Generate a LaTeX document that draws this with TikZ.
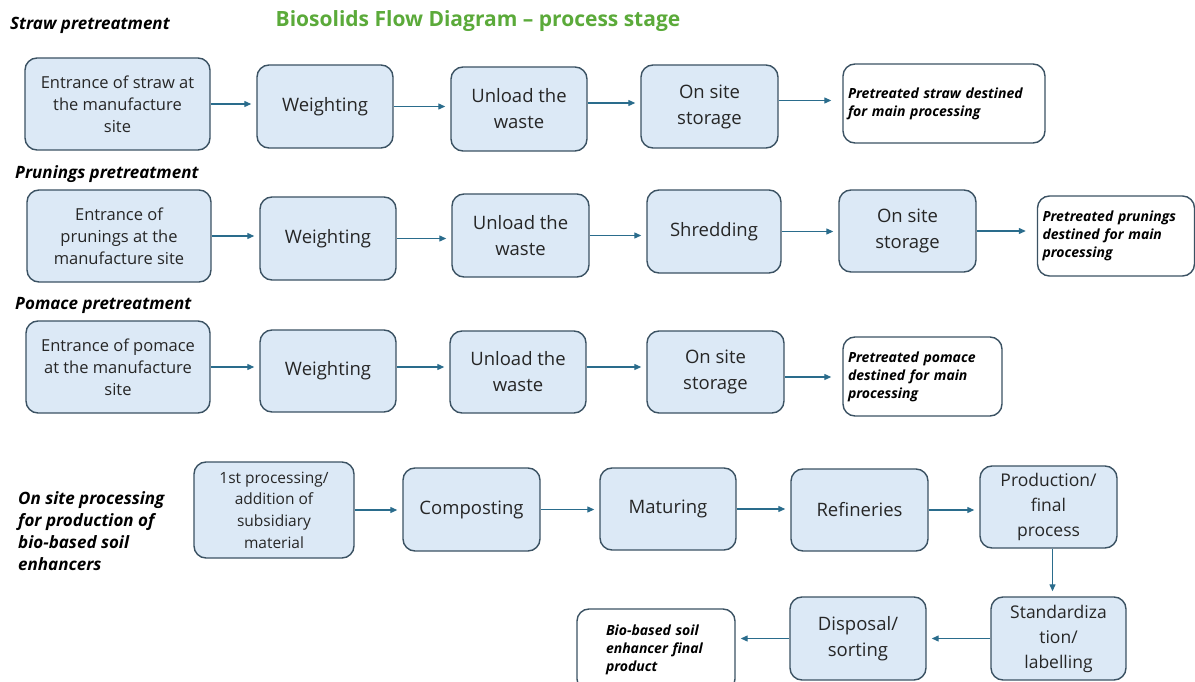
\documentclass[tikz,border=0pt]{standalone}
\usepackage{fontspec}
\setmainfont{Open Sans}
\usetikzlibrary{arrows.meta}

\definecolor{boxfill}{HTML}{DCE9F6}
\definecolor{boxline}{HTML}{3B5263}
\definecolor{arrowc}{HTML}{2A6C8C}
\definecolor{titlegreen}{HTML}{5BAA3A}
\definecolor{inktext}{HTML}{262626}

\tikzset{
  size/.style 2 args={minimum width=#1pt, minimum height=#2pt},
  stage/.style={draw=boxline, fill=boxfill, line width=1.4pt, rounded corners=12pt,
    align=center, text=inktext, inner sep=2pt, font=\fontsize{18.5}{26}\selectfont},
  entry/.style={stage, font=\fontsize{16.5}{22}\selectfont},
  smallstage/.style={stage, font=\fontsize{15.5}{21.7}\selectfont},
  outbox/.style={draw=boxline, fill=white, line width=1.4pt, rounded corners=12pt,
    align=left, text=black, inner xsep=5pt,
    font=\fontsize{14}{18}\selectfont\bfseries\itshape},
  rowlabel/.style={font=\fontsize{17}{22}\selectfont\bfseries\itshape, text=black,
    anchor=west, align=left, inner sep=0pt},
  flow/.style={draw=arrowc, line width=1.2pt, -{Triangle[length=7pt,width=6pt]},
    shorten >=5pt},
  flowgap/.style={flow, shorten >=11pt},
}

\begin{document}
\begin{tikzpicture}[x=1pt, y=-1pt]
\useasboundingbox (0,0) rectangle (1195,682);
\clip (0,0) rectangle (1195,682);

% title and section labels
\node[font=\fontsize{21}{24}\selectfont\bfseries, text=titlegreen] (title) at (478,21)
  {Biosolids Flow Diagram -- process stage};
\node[rowlabel] (lstraw) at (10,25) {Straw pretreatment};
\node[rowlabel] (lprun) at (15,174) {Prunings pretreatment};
\node[rowlabel] (lpom) at (15,305) {Pomace pretreatment};
\node[rowlabel] (lsite) at (18,531) {On site processing\\for production of\\bio-based soil\\enhancers};

% straw line
\node[entry, size={185}{92}] (a1) at (117.5,104) {Entrance of straw at\\the manufacture\\site};
\node[stage, size={136}{83}] (a2) at (325,106.5) {Weighting};
\node[stage, size={136}{84}] (a3) at (519,109) {Unload the\\waste};
\node[stage, size={137}{83}] (a4) at (709.5,106.5) {On site\\storage};
\node[outbox, size={202}{79}, text width=192pt] (a5) at (944,103.5)
  {Pretreated straw destined\\for main processing};

% prunings line
\node[entry, size={184}{92}] (b1) at (119,236) {Entrance of\\prunings at the\\manufacture site};
\node[stage, size={136}{83}] (b2) at (328,238.5) {Weighting};
\node[stage, size={137}{83}] (b3) at (520.5,235.5) {Unload the\\waste};
\node[stage, size={134}{83}] (b4) at (714,231.5) {Shredding};
\node[stage, size={137}{82}] (b5) at (907.5,231) {On site\\storage};
\node[outbox, size={157}{80}, text width=147pt] (b6) at (1116,236)
  {Pretreated prunings\\destined for main\\processing};

% pomace line
\node[entry, size={184}{92}] (c1) at (118,367) {Entrance of pomace\\at the manufacture\\site};
\node[stage, size={136}{82}] (c2) at (328,371) {Weighting};
\node[stage, size={136}{82}] (c3) at (518,372) {Unload the\\waste};
\node[stage, size={137}{82}] (c4) at (715.5,372) {On site\\storage};
\node[outbox, size={159}{79}, text width=149pt] (c5) at (922.5,376.5)
  {Pretreated pomace\\destined for main\\processing};

% main processing line
\node[smallstage, size={160}{96}] (d1) at (274,510) {1st processing/\\addition of\\subsidiary\\material};
\node[stage, size={137}{83}] (d2) at (471.5,509.5) {Composting};
\node[stage, size={136}{82}] (d3) at (668,509) {Maturing};
\node[stage, size={137}{82}] (d4) at (859.5,510) {Refineries};
\node[stage, size={137}{82}, font=\fontsize{17.5}{25}\selectfont] (d5) at (1048.5,507) {Production/\\final\\process};
\node[stage, size={135}{83}, font=\fontsize{17.5}{25}\selectfont] (d6) at (1058.5,638.5) {Standardiza\\tion/\\labelling};
\node[stage, size={136}{83}] (d7) at (858,638.5) {Disposal/\\sorting};
\node[outbox, size={158}{82}, text width=100pt] (d8) at (656,650)
  {Bio-based soil\\enhancer final\\product};

% connectors
\draw[flow] (a1.east) -- (a1.east -| a2.west);
\draw[flow] (a2.east) -- (a2.east -| a3.west);
\draw[flow] (a3.east) ++(0,-6) coordinate (a3o) -- (a3o -| a4.west);
\draw[flowgap] (a4.east) ++(0,-6) coordinate (a4o) -- (a4o -| a5.west);

\draw[flow] (b1.east) -- (b1.east -| b2.west);
\draw[flow] (b2.east) -- (b2.east -| b3.west);
\draw[flow] (b3.east) -- (b3.east -| b4.west);
\draw[flow] (b4.east) -- (b4.east -| b5.west);
\draw[flowgap] (b5.east) -- (b5.east -| b6.west);

\draw[flow] (c1.east) -- (c1.east -| c2.west);
\draw[flow] (c2.east) ++(0,-4) coordinate (c2o) -- (c2o -| c3.west);
\draw[flow] (c3.east) ++(0,-5) coordinate (c3o) -- (c3o -| c4.west);
\draw[flowgap] (c4.east) ++(0,5) coordinate (c4o) -- (c4o -| c5.west);

\draw[flow] (d1.east) -- (d1.east -| d2.west);
\draw[flow] (d2.east) -- (d2.east -| d3.west);
\draw[flow] (d3.east) -- (d3.east -| d4.west);
\draw[flow] (d4.east) -- (d4.east -| d5.west);
\draw[flow] (d5.south) ++(4,0) coordinate (d5o) -- (d5o |- d6.north);
\draw[flow] (d6.west) -- (d6.west -| d7.east);
\draw[flow] (d7.west) -- (d7.west -| d8.east);
\end{tikzpicture}
\end{document}
